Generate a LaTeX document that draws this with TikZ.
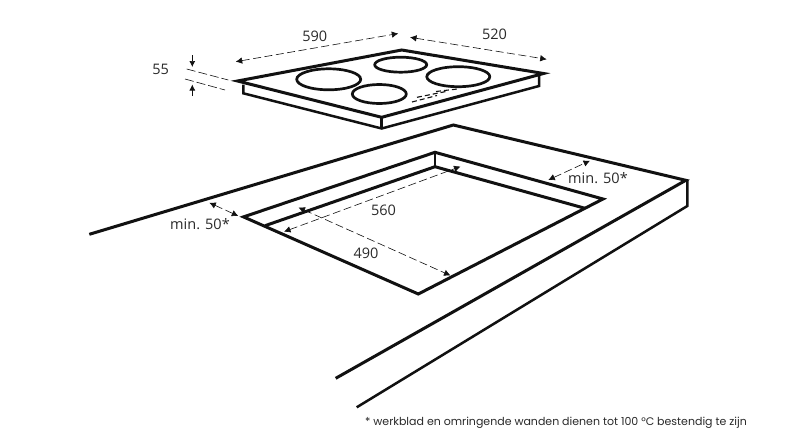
\documentclass[tikz,border=0pt]{standalone}
\usepackage{fontspec}
\setmainfont{Open Sans}
\newfontfamily\notefont{Poppins}
\usetikzlibrary{arrows.meta}
\definecolor{ink}{HTML}{111111}
\definecolor{txt}{HTML}{2A2A2A}
\tikzset{
  thick line/.style={draw=ink,line width=3pt,line cap=butt,line join=miter},
  mid line/.style={draw=ink,line width=2.5pt,line cap=butt,line join=miter},
  burner/.style={draw=ink,line width=2.7pt},
  dimline/.style={draw=ink,line width=0.6pt,dash pattern=on 8pt off 3.5pt,{Latex[length=6.5pt,width=6.5pt]}-{Latex[length=6.5pt,width=6.5pt]}},
  guide/.style={draw=ink,line width=0.6pt,dash pattern=on 9pt off 3pt},
  tick arrow/.style={draw=ink,line width=0.7pt,-{Latex[length=6pt,width=6pt]}},
  panel/.style={draw=ink,line width=1.1pt,dash pattern=on 5pt off 3pt},
  dimtext/.style={text=txt,font=\fontsize{14.5}{16}\selectfont,inner sep=0pt},
  notetext/.style={text=txt,font=\notefont\fontsize{11}{12}\selectfont,inner sep=0pt}
}
\begin{document}
\begin{tikzpicture}[x=1pt,y=-1pt]
\useasboundingbox (0,0) rectangle (800,445);
\fill[white] (0,0) rectangle (800,445);
% hob coordinates
\coordinate (hL) at (237.5,81);
\coordinate (hB) at (401.7,50);
\coordinate (hR) at (543.5,73.5);
\coordinate (hF) at (381.7,117.3);
\coordinate (hF2) at (381.7,128.5);
\coordinate (hLa) at (243.3,84.5);
\coordinate (hLb) at (243.3,93.3);
\coordinate (hRa) at (539,76);
\coordinate (hRb) at (539,86);
\draw[thick line] (hL) -- (hB) -- (hR) -- (hF) -- cycle;
\draw[mid line] (hLa) -- (hLb) -- (hF2) -- (hRb) -- (hRa);
\draw[mid line] (hF) -- (hF2);
% burners
\draw[burner] (328.7,79.3) ellipse [x radius=32,y radius=10.5];
\draw[burner] (400.7,64.7) ellipse [x radius=26,y radius=7.5];
\draw[burner] (458.3,76.7) ellipse [x radius=31.5,y radius=10];
\draw[burner] (379.3,94) ellipse [x radius=27,y radius=9.5];
% control panel
\draw[panel] (412,102) -- (437,95.5);
\draw[panel] (417,97.3) -- (447,91.3);
\draw[panel] (436,91.5) -- (459,88.8);
% hob dimensions
\coordinate (d1a) at (235.7,61.7);
\coordinate (d1b) at (398.3,33.5);
\coordinate (d2a) at (410,37.3);
\coordinate (d2b) at (546.7,59.3);
\draw[dimline] (d1a) -- (d1b);
\draw[dimline] (d2a) -- (d2b);
\node[dimtext] (t590) at (314.7,36) {590};
\node[dimtext] (t520) at (494.5,34) {520};
\node[dimtext] (t55) at (160.7,69) {55};
\coordinate (g1a) at (186.7,69);
\coordinate (g1b) at (228.3,80);
\coordinate (g2a) at (185,79);
\coordinate (g2b) at (225,90);
\draw[guide] (g1a) -- (g1b);
\draw[guide] (g2a) -- (g2b);
\coordinate (a1a) at (192.3,55);
\coordinate (a1b) at (192.3,67);
\coordinate (a2a) at (192.3,96);
\coordinate (a2b) at (192.3,84.5);
\draw[tick arrow] (a1a) -- (a1b);
\draw[tick arrow] (a2a) -- (a2b);
% counter
\coordinate (cA) at (89.3,234.3);
\coordinate (cB) at (453.3,125);
\coordinate (cC) at (685.8,180.3);
\coordinate (cD) at (335.7,378.3);
\coordinate (cE) at (687.3,206);
\coordinate (cF) at (356.7,407.3);
\coordinate (cG) at (687.3,180);
\draw[thick line] (cA) -- (cB) -- (cC) -- (cD);
\draw[mid line] (cG) -- (cE) -- (cF);
% cut-out
\coordinate (oL) at (243.5,216.9);
\coordinate (oB) at (435,152.3);
\coordinate (oR) at (603,199);
\coordinate (iL) at (265,225.7);
\coordinate (iB) at (435,166.7);
\coordinate (iR) at (585,208.3);
\coordinate (oF) at (418.3,294);
\draw[thick line] (oL) -- (oB) -- (oR) -- (oF) -- cycle;
\draw[thick line] (iL) -- (iB) -- (iR);
\draw[mid line] (oB) -- (iB);
% counter dimensions
\coordinate (m1a) at (209.3,202.7);
\coordinate (m1b) at (238.3,216);
\coordinate (m2a) at (548.3,180);
\coordinate (m2b) at (590,160.7);
\coordinate (s1) at (284,231.7);
\coordinate (s2) at (460.5,166.5);
\coordinate (n1) at (298.5,207.5);
\coordinate (n2) at (450.5,275.5);
\draw[dimline] (m1a) -- (m1b);
\draw[dimline] (m2a) -- (m2b);
\draw[dimline] (s1) -- (s2);
\draw[dimline] (n1) -- (n2);
\node[dimtext,fill=white,inner sep=1.5pt] (t560) at (383.5,210.5) {560};
\node[dimtext,fill=white,inner sep=1.5pt] (t490) at (366,253) {490};
\node[dimtext] (tm1) at (200,224) {min. 50*};
\node[dimtext] (tm2) at (598,178) {min. 50*};
\node[notetext] (note) at (556,422.5) {* werkblad en omringende wanden dienen tot 100 °C bestendig te zijn};
\end{tikzpicture}
\end{document}
